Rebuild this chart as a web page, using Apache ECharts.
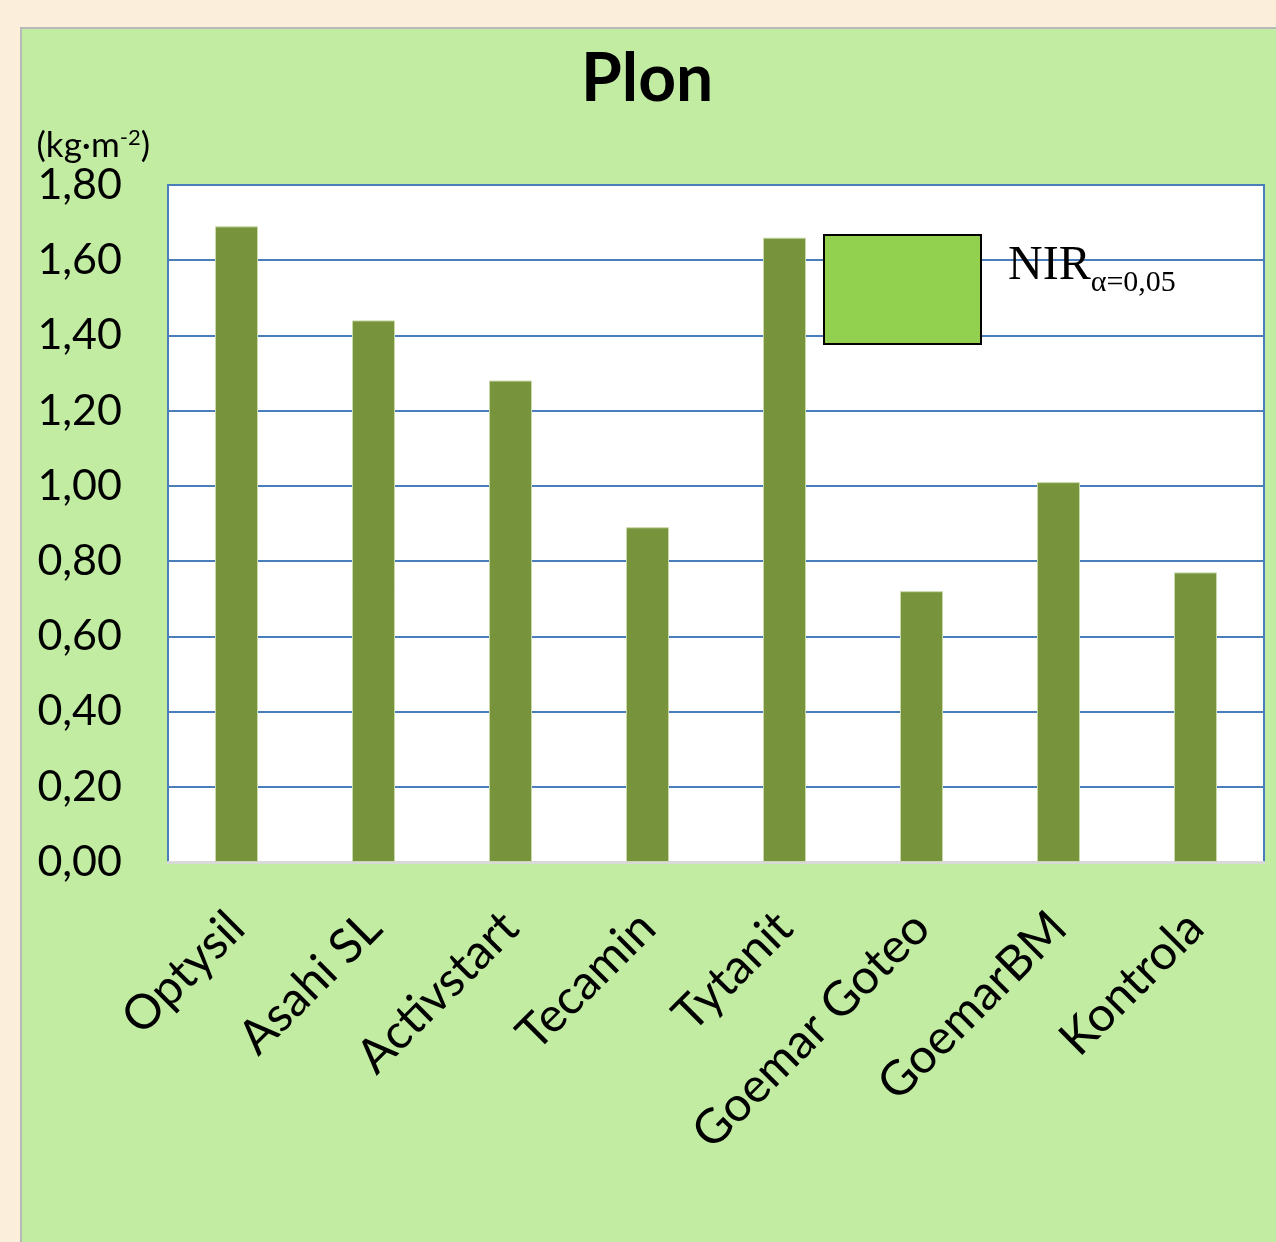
<!DOCTYPE html>
<html>
<head>
<meta charset="utf-8">
<script src="https://cdn.jsdelivr.net/npm/echarts@6/dist/echarts.min.js"></script>
<style>
  html, body { margin: 0; padding: 0; background: #fbefdb; }
  #chart { width: 1276px; height: 1242px; }
</style>
</head>
<body>
<div id="chart"></div>
<script>
var categories = ['Optysil', 'Asahi SL', 'Activstart', 'Tecamin', 'Tytanit', 'Goemar Goteo', 'GoemarBM', 'Kontrola']
var yieldValues = [1.69, 1.44, 1.28, 0.89, 1.66, 0.72, 1.01, 0.77]
var yTicks = ['0,00', '0,20', '0,40', '0,60', '0,80', '1,00', '1,20', '1,40', '1,60', '1,80']

var myChart = echarts.init(document.getElementById('chart'))

var option = {
    backgroundColor: '#fbefdb',
    animation: false,
    graphic: [{
        type: 'rect',
        left: 20,
        top: 27,
        shape: { width: 1270, height: 1230 },
        style: { fill: '#c2eca2', stroke: '#b9b9b9', lineWidth: 2 },
        z: -10
    }],
    title: {
        text: 'Plon',
        left: 576,
        top: 42,
        textStyle: { fontFamily: 'Lato', fontWeight: 'bold', fontSize: 66, color: '#000' }
    },
    legend: {
        left: 818,
        top: 229,
        selectedMode: false,
        icon: 'rect',
        itemWidth: 157,
        itemHeight: 109,
        data: ['NIR'],
        formatter: function(){ return '{a|NIR}{b|α=0,05}' },
        textStyle: {
            padding: [0, 0, 46, 22],
            rich: {
                a: { fontFamily: 'Liberation Serif', fontSize: 48, color: '#000', verticalAlign: 'bottom' },
                b: { fontFamily: 'Liberation Serif', fontSize: 30, color: '#000', verticalAlign: 'bottom', padding: [0, 0, -8, 0] }
            }
        }
    },
    grid: {
        left: 168,
        top: 185,
        right: 12,
        bottom: 380,
        show: true,
        backgroundColor: '#ffffff',
        borderColor: '#4a7ebb',
        borderWidth: 2
    },
    xAxis: {
        type: 'category',
        data: categories,
        axisLine: { lineStyle: { color: '#d9d9d9', width: 3 } },
        axisTick: { show: false },
        axisLabel: {
            rotate: 45,
            interval: 0,
            margin: 58,
            fontFamily: 'Lato',
            fontSize: 48,
            color: '#000'
        }
    },
    yAxis: {
        type: 'value',
        min: 0,
        max: 1.8,
        interval: 0.2,
        name: '(kg·m{s|-2})',
        nameLocation: 'end',
        nameGap: 20,
        nameTextStyle: {
            fontFamily: 'Lato',
            fontSize: 35,
            color: '#000',
            align: 'right',
            padding: [0, 18, 0, 0],
            rich: {
                s: { fontFamily: 'Lato', fontSize: 22, color: '#000', verticalAlign: 'top', padding: [0, 0, 16, 0] }
            }
        },
        axisLine: { show: true, lineStyle: { color: '#4a7ebb', width: 2 } },
        axisTick: { show: false },
        splitLine: { lineStyle: { color: '#4a7ebb', width: 2 } },
        axisLabel: {
            margin: 46,
            fontFamily: 'Lato',
            fontSize: 43,
            color: '#000',
            formatter: function(v){ return yTicks[Math.round(v / 0.2)] }
        }
    },
    series: [{
        name: 'Plon',
        type: 'bar',
        data: yieldValues,
        barWidth: 43,
        barGap: '-100%',
        itemStyle: { color: '#77933c', borderColor: '#c9d9a9', borderWidth: 1 }
    }, {
        name: 'NIR',
        type: 'bar',
        data: [],
        barWidth: 43,
        barGap: '-100%',
        itemStyle: { color: '#92d050', borderColor: '#000000', borderWidth: 2 }
    }]
}

myChart.setOption(option)
</script>
</body>
</html>
